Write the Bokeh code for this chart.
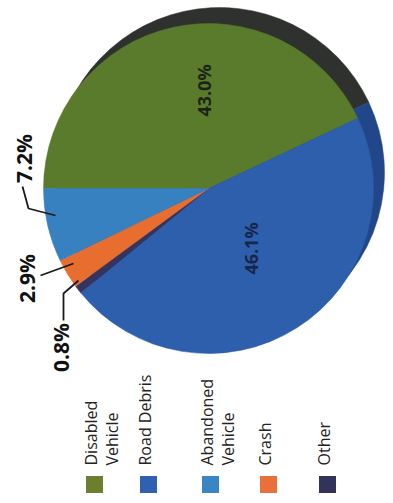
import numpy as np
from bokeh.plotting import figure
from bokeh.models import ColumnDataSource, Range1d
from bokeh.core.properties import value
from bokeh.embed import file_html
from bokeh.resources import INLINE

# ---- data, in clockwise order starting at 9 o'clock ----
categories = ["Disabled Vehicle", "Road Debris", "Other", "Crash", "Abandoned Vehicle"]
shares = [43.0, 46.1, 0.8, 2.9, 7.2]
share_labels = ["43.0%", "46.1%", "0.8%", "2.9%", "7.2%"]

legend_categories = ["Disabled Vehicle", "Road Debris", "Abandoned Vehicle", "Crash", "Other"]
legend_lines = [["Disabled", "Vehicle"], ["Road Debris"], ["Abandoned", "Vehicle"], ["Crash"], ["Other"]]

# ---- styles ----
face_colors = {
    "Disabled Vehicle": "#5a7b2b",
    "Road Debris": "#2d5fad",
    "Other": "#34345e",
    "Crash": "#e86e30",
    "Abandoned Vehicle": "#3781c1",
}
side_colors = {
    "Disabled Vehicle": "#2f312f",
    "Road Debris": "#22468a",
    "Other": "#232340",
    "Crash": "#9a4520",
    "Abandoned Vehicle": "#255d93",
}
legend_colors = {
    "Disabled Vehicle": "#6b7f2e",
    "Road Debris": "#2e62b0",
    "Abandoned Vehicle": "#3a86c4",
    "Crash": "#e8703a",
    "Other": "#33335a",
}

W, H = 393, 503


def X(rx):
    return rx


def Y(ry):
    return H - ry


p = figure(width=W, height=H, x_range=Range1d(0, W), y_range=Range1d(0, H),
           output_backend="svg", toolbar_location=None, min_border=0)
p.axis.visible = False
p.grid.visible = False
p.outline_line_color = None
p.background_fill_color = "white"
p.border_fill_color = "white"

# ---- pie angles from data ----
vals = np.array(shares, dtype=float)
frac = vals / vals.sum()
cum = np.cumsum(frac)
starts = np.pi - 2 * np.pi * np.concatenate([[0.0], cum[:-1]])
ends = np.pi - 2 * np.pi * cum

R = 165
cx, cy = X(208), Y(188)
sx, sy = X(219), Y(172)

side_src = ColumnDataSource(dict(
    x=[sx] * len(vals), y=[sy] * len(vals), start=starts, end=ends,
    color=[side_colors[c] for c in categories]))
p.wedge(x="x", y="y", radius=R, start_angle="start", end_angle="end",
        direction="clock", fill_color="color", line_color="color",
        line_width=0.5, source=side_src)

face_src = ColumnDataSource(dict(
    x=[cx] * len(vals), y=[cy] * len(vals), start=starts, end=ends,
    color=[face_colors[c] for c in categories]))
p.wedge(x="x", y="y", radius=R, start_angle="start", end_angle="end",
        direction="clock", fill_color="color", line_color="color",
        line_width=0.5, source=face_src)

# ---- percent labels ----
label_pos = {  # reference-pixel positions (layout)
    "Disabled Vehicle": (203, 90, 18, "#1c2418"),
    "Road Debris": (250, 248, 18, "#17264a"),
    "Abandoned Vehicle": (23, 158, 21, "#111111"),
    "Crash": (26, 278, 21, "#111111"),
    "Other": (60, 347, 21, "#111111"),
}
for cat, lab in zip(categories, share_labels):
    rx, ry, fs, col = label_pos[cat]
    p.text(x=[X(rx)], y=[Y(ry)], text=[lab], angle=np.pi / 2,
           text_align="center", text_baseline="middle",
           text_font=value("Open Sans"), text_font_style="bold",
           text_font_size=f"{fs}px", text_color=col)

# ---- leader lines ----
leaders = [
    [(22, 186), (28, 208), (55, 215)],
    [(40, 275), (73, 263)],
    [(63, 320), (63, 293), (78, 280)],
]
p.multi_line(xs=[[X(a) for a, b in L] for L in leaders],
             ys=[[Y(b) for a, b in L] for L in leaders],
             line_color="#1a1a1a", line_width=1.8)

# ---- legend ----
leg_x = [94, 148, 210, 268, 327]
leg_sq_y = 484
leg_txt_y = 465
line_gap = 21
for cat, lines, lx in zip(legend_categories, legend_lines, leg_x):
    p.rect(x=[X(lx)], y=[Y(leg_sq_y)], width=17, height=17,
           fill_color=legend_colors[cat], line_color=None)
    for i, ln in enumerate(lines):
        p.text(x=[X(lx - 4 + i * line_gap)], y=[Y(leg_txt_y)], text=[ln], angle=np.pi / 2,
               text_align="left", text_baseline="middle",
               text_font=value("Open Sans"), text_font_size="16px",
               text_color="#222222")

open("out.html", "w").write(file_html(p, INLINE))
